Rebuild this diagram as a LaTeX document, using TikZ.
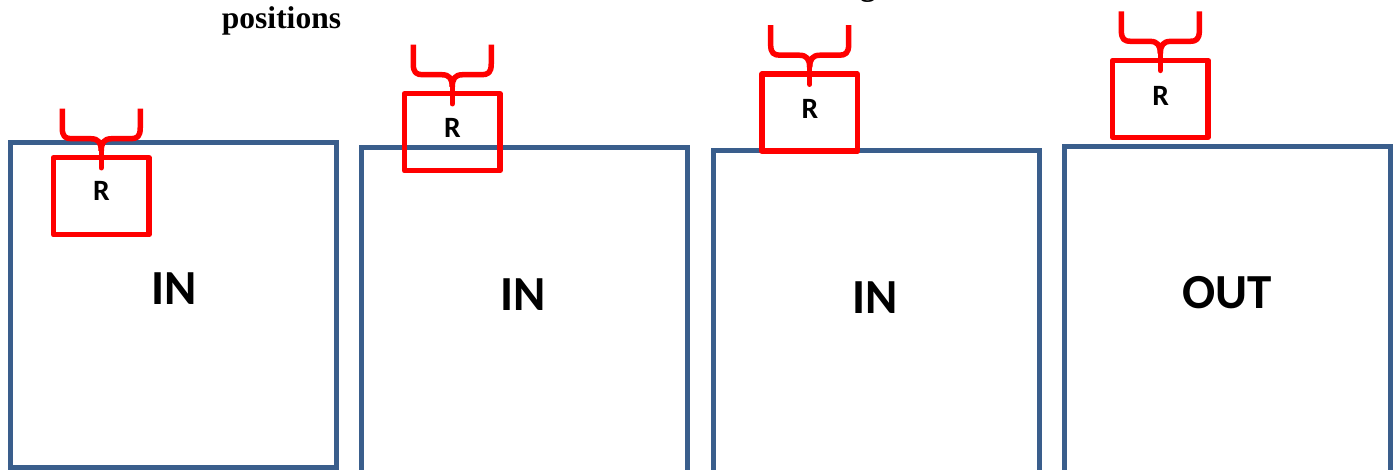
\documentclass[tikz,border=0pt]{standalone}
\usepackage{fontspec}
\setmainfont{Liberation Serif}
\newfontfamily\carlito{Carlito}
\definecolor{boxblue}{HTML}{3A5E8C}
\definecolor{boxred}{HTML}{FF0000}
\tikzset{
  bluebox/.style={draw=boxblue, line width=5pt, inner sep=0pt, outer sep=0pt, anchor=north west, minimum width=326pt},
  redbox/.style={draw=boxred, line width=5.5pt, line join=round, minimum width=95.5pt, minimum height=77pt, inner sep=0pt, outer sep=0pt},
  bracearm/.style={draw=boxred, line width=5.5pt, line cap=butt, line join=round},
  bracestem/.style={draw=boxred, line width=5.5pt, line cap=round},
  bigtext/.style={font=\carlito\bfseries\fontsize{49}{49}\selectfont, inner sep=0pt},
  rtext/.style={font=\carlito\bfseries\fontsize{29.5}{29.5}\selectfont, inner sep=0pt},
  serifhead/.style={font=\bfseries\fontsize{31.5}{31.5}\selectfont, inner sep=0pt, anchor=base},
  bracepic/.pic={
    \draw[bracearm] (-39,-49) -- (-39,-30) .. controls (-39,-21) and (-36,-19) .. (-29,-19)
      -- (-10,-19) .. controls (-3,-19) and (0,-15) .. (0,-7);
    \draw[bracearm] (39,-49) -- (39,-30) .. controls (39,-21) and (36,-19) .. (29,-19)
      -- (10,-19) .. controls (3,-19) and (0,-15) .. (0,-7);
    \draw[bracestem] (0,-8) -- (0,10);
  }
}
\begin{document}
\begin{tikzpicture}[x=1pt,y=-1pt]
\useasboundingbox (0,0) rectangle (1397,470);
% text at top
\node[serifhead] (title) at (281.5,29) {positions};
\node[serifhead] (frag) at (868,-4.5) {g};
% blue boxes
\node[bluebox, minimum height=325pt] (b1) at (10.5,142.5) {};
\node[bluebox, minimum height=352pt] (b2) at (361,148) {};
\node[bluebox, minimum height=350pt] (b3) at (713,150.5) {};
\node[bluebox, minimum height=325pt] (b4) at (1064,147) {};
% labels
\node[bigtext] (in1) at (174,288.3) {IN};
\node[bigtext] (in2) at (523.5,294.7) {IN};
\node[bigtext] (in3) at (875.5,297.2) {IN};
\node[bigtext] (out) at (1227.5,292.8) {OUT};
% red boxes
\node[redbox] (r1) at (101.25,196.25) {};
\node[redbox] (r2) at (452.25,132.25) {};
\node[redbox] (r3) at (809.65,112.75) {};
\node[redbox] (r4) at (1160.35,98.9) {};
\node[rtext] (t1) at (101.5,191) {R};
\node[rtext] (t2) at (452.5,127.5) {R};
\node[rtext] (t3) at (810,108.8) {R};
\node[rtext] (t4) at (1160.7,95.7) {R};
% braces
\pic at (r1.north) {bracepic};
\pic at (r2.north) {bracepic};
\pic at (r3.north) {bracepic};
\pic at (r4.north) {bracepic};
\end{tikzpicture}
\end{document}
